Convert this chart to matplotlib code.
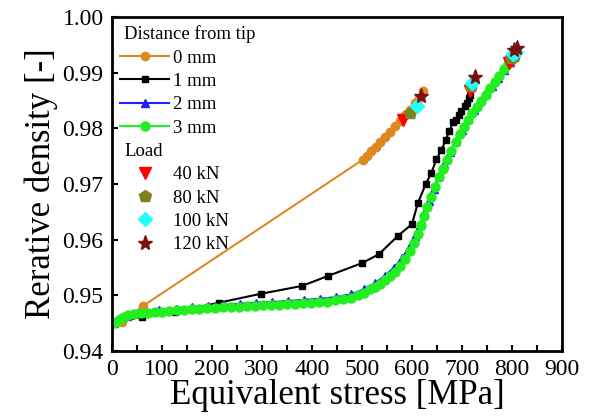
import matplotlib
matplotlib.use("Agg")
import matplotlib.pyplot as plt
from matplotlib.lines import Line2D
from matplotlib.ticker import MultipleLocator

plt.rcParams['font.family'] = ['Liberation Serif', 'DejaVu Serif']

# distance from tip series: equivalent stress [MPa] vs relative density [-]
x_0mm = [20, 62, 502, 510, 519, 528, 537, 546, 556, 566, 576, 586, 596, 606, 614, 622]
y_0mm = [0.9453, 0.9481, 0.9744, 0.9751, 0.9759, 0.9767, 0.9775, 0.9784, 0.9794,
         0.9804, 0.9814, 0.9824, 0.9834, 0.9845, 0.9855, 0.9868]

x_1mm = [5, 60, 126, 214, 298, 380, 432, 500, 534, 572, 600, 612, 628, 639, 649,
         659, 668, 675, 683, 688, 695, 699, 706, 711, 715, 716]
y_1mm = [0.9450, 0.9462, 0.9470, 0.9487, 0.9503, 0.9517, 0.9535, 0.9558, 0.9574,
         0.9607, 0.9628, 0.9666, 0.9701, 0.9720, 0.9745, 0.9761, 0.9780, 0.9796,
         0.9812, 0.9815, 0.9824, 0.9832, 0.9840, 0.9846, 0.9854, 0.9860]

x_2mm = [5, 30, 62, 95, 128, 160, 192, 224, 256, 288, 320, 352, 384, 416, 448, 478,
         504, 526, 546, 564, 580, 594, 606, 616, 625, 634, 644, 654, 665, 676, 688,
         700, 712, 724, 736, 748, 760, 772, 784, 796, 806]
y_2mm = [0.9450, 0.9463, 0.9469, 0.9473, 0.9476, 0.9479, 0.9481, 0.9483, 0.9485,
         0.9487, 0.9488, 0.9490, 0.9492, 0.9494, 0.9497, 0.9502, 0.9511, 0.9522,
         0.9535, 0.9550, 0.9567, 0.9586, 0.9606, 0.9627, 0.9648, 0.9670, 0.9692,
         0.9714, 0.9736, 0.9757, 0.9778, 0.9798, 0.9817, 0.9834, 0.9849, 0.9863,
         0.9877, 0.9891, 0.9905, 0.9919, 0.9933]

x_3mm = [3, 8, 16, 24, 32, 45, 58, 72, 86, 100, 115, 130, 145, 160, 175, 190, 206,
         222, 238, 254, 270, 286, 302, 318, 334, 350, 366, 382, 398, 414, 430, 446,
         462, 478, 492, 504, 516, 526, 536, 546, 556, 566, 576, 586, 596, 605, 613,
         619, 625, 631, 638, 646, 654, 663, 671, 679, 688, 696, 704, 713, 721, 730,
         739, 748, 757, 766, 775, 784, 792, 800, 806]
y_3mm = [0.9450, 0.9453, 0.9457, 0.9461, 0.9465, 0.9467, 0.9468, 0.9469, 0.9470,
         0.9471, 0.9472, 0.9473, 0.9474, 0.9475, 0.9476, 0.9477, 0.9478, 0.9479,
         0.9479, 0.9480, 0.9481, 0.9481, 0.9482, 0.9483, 0.9483, 0.9484, 0.9485,
         0.9486, 0.9487, 0.9488, 0.9489, 0.9491, 0.9493, 0.9496, 0.9500, 0.9505,
         0.9511, 0.9516, 0.9521, 0.9528, 0.9535, 0.9543, 0.9553, 0.9565, 0.9580,
         0.9595, 0.9610, 0.9626, 0.9643, 0.9659, 0.9676, 0.9695, 0.9712, 0.9728,
         0.9744, 0.9760, 0.9776, 0.9790, 0.9803, 0.9815, 0.9827, 0.9838, 0.9849,
         0.9860, 0.9872, 0.9884, 0.9895, 0.9906, 0.9916, 0.9926, 0.9934]

# load points, one per series (0, 1, 2, 3 mm)
x_40kN = [582, 717, 795, 800]
y_40kN = [0.9815, 0.9868, 0.9918, 0.9923]
x_80kN = [596, 719, 799, 804]
y_80kN = [0.9828, 0.9876, 0.9926, 0.9930]
x_100kN = [610, 721, 802, 808]
y_100kN = [0.9840, 0.9882, 0.9934, 0.9937]
x_120kN = [618, 727, 805, 810]
y_120kN = [0.9858, 0.9892, 0.9941, 0.9945]

fig = plt.figure(figsize=(5.89, 4.17), dpi=100)
ax = fig.add_axes([0.19, 0.158, 0.764, 0.801])

l0, = ax.plot(x_0mm, y_0mm, '-o', color='#DD8822', lw=1.5, ms=6, label='0 mm')
l1, = ax.plot(x_1mm, y_1mm, '-s', color='black', lw=1.5, ms=5, label='1 mm')
l2, = ax.plot(x_2mm, y_2mm, '-^', color='#1F1FFF', lw=1.5, ms=6, label='2 mm')
l3, = ax.plot(x_3mm, y_3mm, '-o', color='#22EE22', lw=1.5, ms=6.5, label='3 mm')

m40, = ax.plot(x_40kN, y_40kN, 'v', color='red', ms=9, ls='none', label='40 kN')
m80, = ax.plot(x_80kN, y_80kN, 'p', color='#808020', ms=9, ls='none', label='80 kN')
m100, = ax.plot(x_100kN, y_100kN, 'D', color='#22FFFF', ms=7, ls='none', label='100 kN')
m120, = ax.plot(x_120kN, y_120kN, '*', color='#7B1010', ms=11, ls='none', label='120 kN')

ax.set_xlim(0, 900)
ax.set_ylim(0.94, 1.00)
ax.xaxis.set_major_locator(MultipleLocator(100))
ax.xaxis.set_minor_locator(MultipleLocator(50))
ax.yaxis.set_major_locator(MultipleLocator(0.01))
ax.yaxis.set_major_formatter(matplotlib.ticker.FormatStrFormatter('%.2f'))
ax.tick_params(which='both', direction='in', length=4, width=1.5, labelsize=17,
               top=False, right=False, pad=6)
for s in ax.spines.values():
    s.set_linewidth(2)

ax.set_xlabel('Equivalent stress [MPa]', fontsize=25, labelpad=-1)
ax.set_ylabel('Rerative density [-]', fontsize=25, labelpad=3)

h1 = Line2D([], [], ls='none')
h2 = Line2D([], [], ls='none')
handles = [h1, l0, l1, l2, l3, h2, m40, m80, m100, m120]
labels = ['Distance from tip', '0 mm', '1 mm', '2 mm', '3 mm', 'Load',
          '40 kN', '80 kN', '100 kN', '120 kN']
leg = ax.legend(handles, labels, loc='upper left', frameon=False, fontsize=13.5,
                handlelength=2.6, handletextpad=0.2, labelspacing=0.33,
                borderaxespad=0.2, borderpad=0.25)
for col in leg._legend_handle_box.get_children():
    for row in col.get_children():
        da, ta = row.get_children()
        if ta.get_text() in ('Distance from tip', 'Load'):
            da.set_width(0)

fig.savefig('out.png', dpi=100)
